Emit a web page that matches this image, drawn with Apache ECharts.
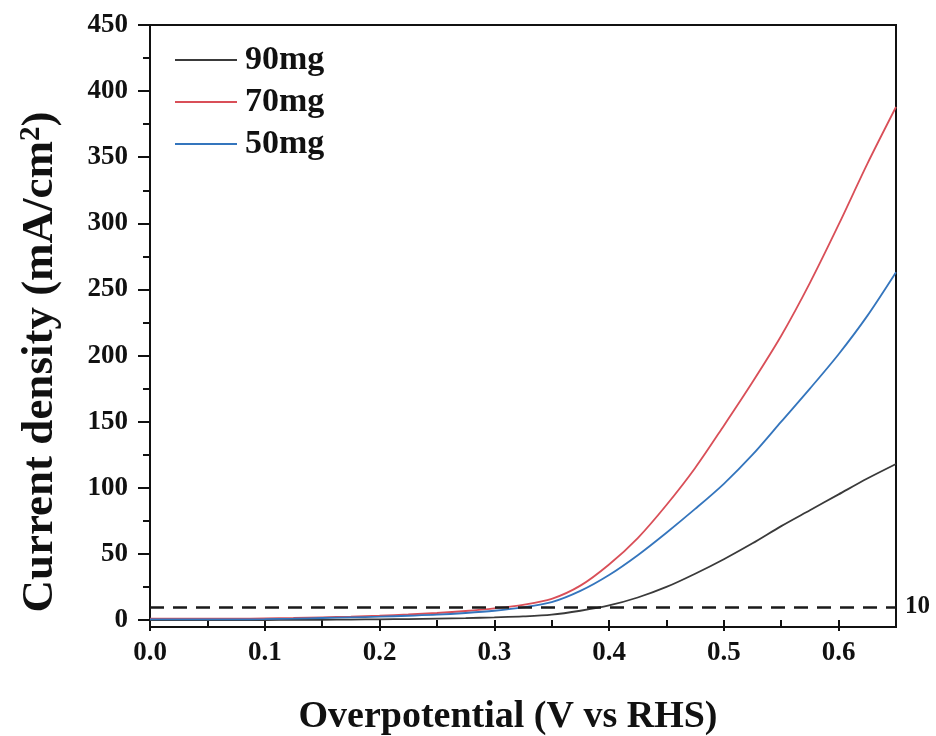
<!DOCTYPE html>
<html>
<head>
<meta charset="utf-8">
<script src="https://cdn.jsdelivr.net/npm/echarts@6/dist/echarts.min.js"></script>
<style>
html,body{margin:0;padding:0;background:#fff;}
#chart{width:936px;height:736px;}
</style>
</head>
<body>
<div id="chart"></div>
<script>
// Overpotential (V vs RHS)
const overpotential = [0,0.025,0.05,0.075,0.1,0.125,0.15,0.175,0.2,0.225,0.25,0.275,0.3,0.325,0.35,0.375,0.4,0.425,0.45,0.475,0.5,0.525,0.55,0.575,0.6,0.625,0.65];
// Current density (mA/cm2)
const mg90 = [0,0,0,0,0,0.1,0.2,0.3,0.5,0.7,1,1.4,2,2.7,4,7,11,17,25,35,46,58,71,83,95,107,118];
const mg70 = [1,1,1,1,1.2,1.5,2,2.6,3.3,4.2,5.3,6.8,8.8,11.5,16,26,42,62,87,115,147,180,215,255,299,345,388];
const mg50 = [0.5,0.5,0.5,0.5,0.6,1,1.5,2,2.5,3.2,4,5.3,7,9.5,13.5,22,34,49,66,84,103,125,150,175,201,230,263];
const seriesNames = ['90mg','70mg','50mg'];
const refLevel = 10;
const xMajorTicks = [0,0.1,0.2,0.3,0.4,0.5,0.6];
const xMinorTicks = [0.05,0.15,0.25,0.35,0.45,0.55,0.65];
const yMajorTicks = [0,50,100,150,200,250,300,350,400,450];
const yMinorTicks = [25,75,125,175,225,275,325,375,425];

const FONT = '"Liberation Serif","Times New Roman",serif';
const pairs = arr => overpotential.map((x,i)=>[x, arr[i]]);

const chart = echarts.init(document.getElementById('chart'));
const tickStyle = {color:'#111', width:2};
chart.setOption({
  animation:false,
  backgroundColor:'#fff',
  grid:{left:150,right:40,top:25,bottom:109,containLabel:false,outerBoundsMode:'none',show:true,borderColor:'#111',borderWidth:2,backgroundColor:'transparent'},
  legend:{
    data:seriesNames, orient:'vertical', left:175, top:43, padding:0, icon:'rect', itemWidth:62, itemHeight:2, itemGap:8,
    textStyle:{fontFamily:FONT,fontWeight:'bold',fontSize:34,color:'#111',padding:[0,0,0,3]}
  },
  xAxis:[{
    type:'value', min:0, max:0.65, position:'bottom',
    name:'Overpotential (V vs RHS)', nameLocation:'middle', nameGap:71,
    nameTextStyle:{fontFamily:FONT,fontWeight:'bold',fontSize:38,color:'#111',padding:[0,30,0,0]},
    axisLine:{show:false},
    axisTick:{show:true,inside:false,length:11,customValues:xMajorTicks,lineStyle:tickStyle},
    axisLabel:{customValues:xMajorTicks,margin:13,formatter:v=>v.toFixed(1),fontFamily:FONT,fontWeight:'bold',fontSize:27,color:'#111'},
    splitLine:{show:false}
  },{
    type:'value', min:0, max:0.65, position:'bottom',
    axisLine:{show:false}, axisLabel:{show:false}, splitLine:{show:false},
    axisTick:{show:true,inside:false,length:7,customValues:xMinorTicks,lineStyle:tickStyle}
  }],
  yAxis:[{
    type:'value', min:-5.3, max:450, position:'left',
    name:'{a|Current density (mA/cm}{s|2}{a|)}', nameLocation:'middle', nameGap:86, nameRotate:90,
    nameTextStyle:{padding:[0,72,0,0],rich:{
      a:{fontFamily:FONT,fontWeight:'bold',fontSize:45,color:'#111'},
      s:{fontFamily:FONT,fontWeight:'bold',fontSize:29,color:'#111',verticalAlign:'top',padding:[0,0,18,0]}
    }},
    axisLine:{show:false},
    axisTick:{show:true,inside:false,length:12,customValues:yMajorTicks,lineStyle:tickStyle},
    axisLabel:{customValues:yMajorTicks,margin:22,fontFamily:FONT,fontWeight:'bold',fontSize:27,color:'#111'},
    splitLine:{show:false}
  },{
    type:'value', min:-5.3, max:450, position:'left',
    axisLine:{show:false}, axisLabel:{show:false}, splitLine:{show:false},
    axisTick:{show:true,inside:false,length:7,customValues:yMinorTicks,lineStyle:tickStyle}
  }],
  series:[
    {name:seriesNames[0],type:'line',data:pairs(mg90),symbol:'none',smooth:0.3,color:'#3a3a3a',lineStyle:{width:1.8,color:'#3a3a3a'},
     markLine:{silent:true,symbol:['none','none'],data:[{yAxis:refLevel}],
       lineStyle:{color:'#1a1a1a',width:2.5,type:[14,9]},
       label:{show:true,position:'end',distance:9,formatter:String(refLevel),fontFamily:FONT,fontWeight:'bold',fontSize:25,color:'#111'}}},
    {name:seriesNames[1],type:'line',data:pairs(mg70),symbol:'none',smooth:0.3,color:'#d94f58',lineStyle:{width:1.8,color:'#d94f58'}},
    {name:seriesNames[2],type:'line',data:pairs(mg50),symbol:'none',smooth:0.3,color:'#3475bd',lineStyle:{width:1.8,color:'#3475bd'}}
  ]
});
</script>
</body>
</html>
